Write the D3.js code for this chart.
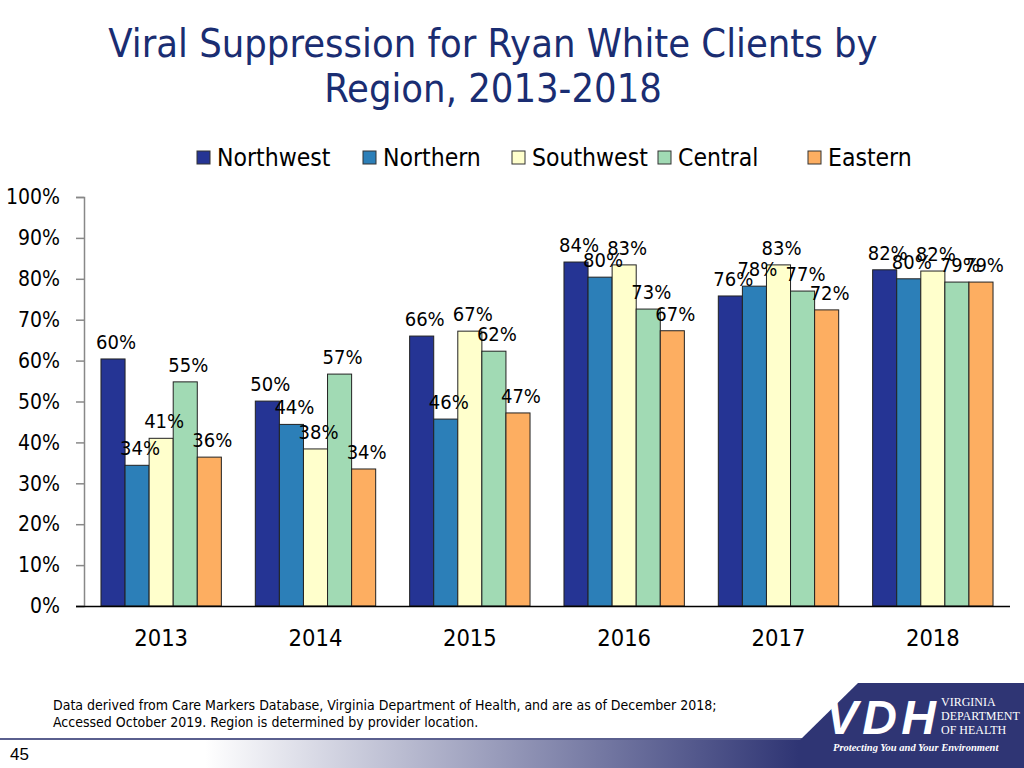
<!DOCTYPE html>
<html><head><meta charset="utf-8">
<script src="https://cdn.jsdelivr.net/npm/d3@7"></script>
<style>body{margin:0;background:#fff;}svg{display:block;font-family:"DejaVu Sans Condensed","DejaVu Sans",sans-serif;}</style>
</head><body>
<svg id="chart" width="1024" height="768"></svg>
<script>
const years = ["2013","2014","2015","2016","2017","2018"];
const regions = ["Northwest","Northern","Southwest","Central","Eastern"];
const colors = ["#253494","#2c7fb8","#ffffcc","#a1dab4","#fdae61"];
const northwest = [0.604,0.501,0.660,0.841,0.758,0.822];
const northern  = [0.344,0.444,0.457,0.804,0.782,0.800];
const southwest = [0.410,0.384,0.672,0.834,0.834,0.819];
const central   = [0.548,0.567,0.623,0.726,0.770,0.792];
const eastern   = [0.364,0.335,0.472,0.673,0.724,0.792];
const seriesVals = [northwest,northern,southwest,central,eastern];
const yTicks = [0,0.1,0.2,0.3,0.4,0.5,0.6,0.7,0.8,0.9,1.0];

const svg = d3.select("#chart");
const y = d3.scaleLinear().domain([0,1]).range([606,197]);
const x0 = d3.scaleBand().domain(years).range([84,1010]).paddingInner(0.22).paddingOuter(0.11);
const x1 = d3.scaleBand().domain(regions).range([0,x0.bandwidth()]);
const color = d3.scaleOrdinal().domain(regions).range(colors);

// title
svg.append("text").attr("x",493).attr("y",57).attr("text-anchor","middle")
  .attr("font-size",39.5).attr("fill","#1a2d72").text("Viral Suppression for Ryan White Clients by");
svg.append("text").attr("x",493).attr("y",102).attr("text-anchor","middle")
  .attr("font-size",39.5).attr("fill","#1a2d72").text("Region, 2013-2018");

// legend
const legX = [197,363,512,658,808];
const leg = svg.append("g");
regions.forEach((r,i)=>{
  leg.append("rect").attr("x",legX[i]).attr("y",151).attr("width",13).attr("height",13)
    .attr("fill",color(r)).attr("stroke","#333").attr("stroke-width",1);
  leg.append("text").attr("x",legX[i]+20).attr("y",166).attr("font-size",24.5).attr("fill","#000").text(r);
});

// y axis
const yAxis = d3.axisLeft(y).tickValues(yTicks).tickFormat(d3.format(".0%")).tickSize(8).tickPadding(16);
const gy = svg.append("g").attr("transform","translate(84,0)").call(yAxis);
gy.select(".domain").attr("stroke","#888").attr("stroke-width",1.5);
gy.selectAll(".tick line").attr("stroke","#888").attr("stroke-width",1.5);
gy.selectAll(".tick text").attr("font-size",21).attr("fill","#000")
  .attr("font-family","DejaVu Sans Condensed, DejaVu Sans, sans-serif");

// bars
const groups = svg.append("g").selectAll("g").data(years).join("g")
  .attr("transform",d=>`translate(${x0(d)},0)`);
groups.each(function(yr,yi){
  const g = d3.select(this);
  regions.forEach((r,ri)=>{
    const v = seriesVals[ri][yi];
    g.append("rect").attr("x",x1(r)).attr("y",y(v)).attr("width",x1.bandwidth())
      .attr("height",y(0)-y(v)).attr("fill",color(r)).attr("stroke","#222").attr("stroke-width",1);
  });
});
groups.each(function(yr,yi){
  const g = d3.select(this);
  regions.forEach((r,ri)=>{
    const v = seriesVals[ri][yi];
    g.append("text").attr("x",x1(r)+x1.bandwidth()/2+3).attr("y",y(v)-10)
      .attr("text-anchor","middle").attr("font-size",20).attr("fill","#000")
      .text(Math.round(v*100)+"%");
  });
});

// x axis
const xAxis = d3.axisBottom(x0).tickSize(0).tickPadding(23);
const gx = svg.append("g").attr("transform","translate(0,606)").call(xAxis);
gx.select(".domain").remove();
svg.append("line").attr("x1",76).attr("x2",1010).attr("y1",606.5).attr("y2",606.5).attr("stroke","#000").attr("stroke-width",1.5);
gx.selectAll(".tick text").attr("font-size",23.5).attr("fill","#000")
  .attr("font-family","DejaVu Sans Condensed, DejaVu Sans, sans-serif");

// footer
const defs = svg.append("defs");
const grad = defs.append("linearGradient").attr("id","band").attr("x1","0").attr("x2","1").attr("y1","0").attr("y2","0");
grad.append("stop").attr("offset","0").attr("stop-color","#ffffff");
grad.append("stop").attr("offset","0.2").attr("stop-color","#ffffff");
grad.append("stop").attr("offset","0.78").attr("stop-color","#2f3574");
grad.append("stop").attr("offset","1").attr("stop-color","#2f3574");
svg.append("rect").attr("x",0).attr("y",740).attr("width",1024).attr("height",28).attr("fill","url(#band)");
svg.append("line").attr("x1",0).attr("x2",830).attr("y1",739).attr("y2",739).attr("stroke","#5a5f8e").attr("stroke-width",2);
svg.append("polygon").attr("points","858,683 1024,683 1024,768 800,768 800,740").attr("fill","#2f3574");
svg.append("text").attr("x",10).attr("y",760).attr("font-size",17).attr("font-family","Liberation Sans, Arial, sans-serif").attr("fill","#000").text("45");
svg.append("text").attr("x",53).attr("y",710).attr("font-size",14).attr("fill","#000")
  .text("Data derived from Care Markers Database, Virginia Department of Health, and are as of December 2018;");
svg.append("text").attr("x",53).attr("y",727).attr("font-size",14).attr("fill","#000")
  .text("Accessed October 2019. Region is determined by provider location.");
// logo
svg.append("text").attr("x",826).attr("y",734).attr("font-size",48).attr("font-weight","bold").attr("font-style","italic")
  .attr("font-family","Liberation Sans, Arial, sans-serif").attr("fill","#fff").attr("textLength",110).text("VDH");
const lt = ["VIRGINIA","DEPARTMENT","OF HEALTH"];
lt.forEach((t,i)=>svg.append("text").attr("x",941).attr("y",706+i*14).attr("font-size",12)
  .attr("font-family","Liberation Serif, serif").attr("fill","#fff").text(t));
svg.append("text").attr("x",833).attr("y",751).attr("font-size",10.5).attr("font-style","italic").attr("font-weight","bold")
  .attr("font-family","Liberation Serif, serif").attr("fill","#fff").text("Protecting You and Your Environment");
</script>
</body></html>
